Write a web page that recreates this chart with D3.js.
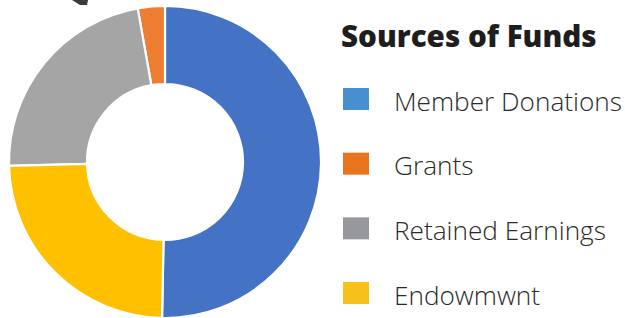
<!DOCTYPE html>
<html><head><meta charset="utf-8">
<script src="https://cdn.jsdelivr.net/npm/d3@7"></script>
<style>html,body{margin:0;padding:0;background:#fff;}svg{display:block;}</style>
</head><body>
<svg id="c" width="625" height="318"></svg>
<script>
// Data (legend order)
const categories = ["Member Donations", "Grants", "Retained Earnings", "Endowmwnt"];
const values = [50.3, 2.8, 22.6, 24.3];
// Clockwise drawing order of slices starting at 12 o'clock
const drawOrder = ["Member Donations", "Endowmwnt", "Retained Earnings", "Grants"];
const sliceColors = ["#4472C4", "#ED7D31", "#A5A5A5", "#FFC000"];
const legendColors = ["#478FCF", "#E8741F", "#97989C", "#F8C11A"];
const title = "Sources of Funds";

const svg = d3.select("#c");
const data = categories.map((c, i) => ({cat: c, value: values[i], i}));

const cx = 165, cy = 162, outerR = 156, innerR = 78;
const pie = d3.pie().value(d => d.value)
  .sort((a, b) => drawOrder.indexOf(a.cat) - drawOrder.indexOf(b.cat));
const arc = d3.arc().innerRadius(innerR).outerRadius(outerR);

const g = svg.append("g").attr("transform", `translate(${cx},${cy})`);
g.selectAll("path.slice").data(pie(data)).join("path")
  .attr("class", "slice")
  .attr("d", arc)
  .attr("fill", d => sliceColors[d.data.i])
  .attr("stroke", "#fff")
  .attr("stroke-width", 2.2);

// small dark fragment at top-left (cropped decoration)
svg.append("path").attr("d", "M72,0 L88,0 L87,5 L80,5 Z").attr("fill", "#3a3a3a");

// Legend
svg.append("text").attr("x", 341).attr("y", 47)
  .attr("font-family", "'Open Sans', Lato, sans-serif")
  .attr("font-weight", 800).attr("font-size", 29.6).attr("fill", "#1e1e1e")
  .text(title);

const ly = d3.scalePoint().domain(categories).range([99, 293]);
const lg = svg.selectAll("g.leg").data(data).join("g").attr("class", "leg")
  .attr("transform", d => `translate(0,${ly(d.cat)})`);
lg.append("rect").attr("x", 343).attr("y", -11).attr("width", 26).attr("height", 22)
  .attr("fill", d => legendColors[d.i]);
lg.append("text").attr("x", 394).attr("y", 11.5)
  .attr("font-family", "'Open Sans', Lato, sans-serif")
  .attr("font-weight", 300).attr("font-size", 26.2).attr("fill", "#2a2a2a")
  .text(d => d.cat);
</script>
</body></html>
